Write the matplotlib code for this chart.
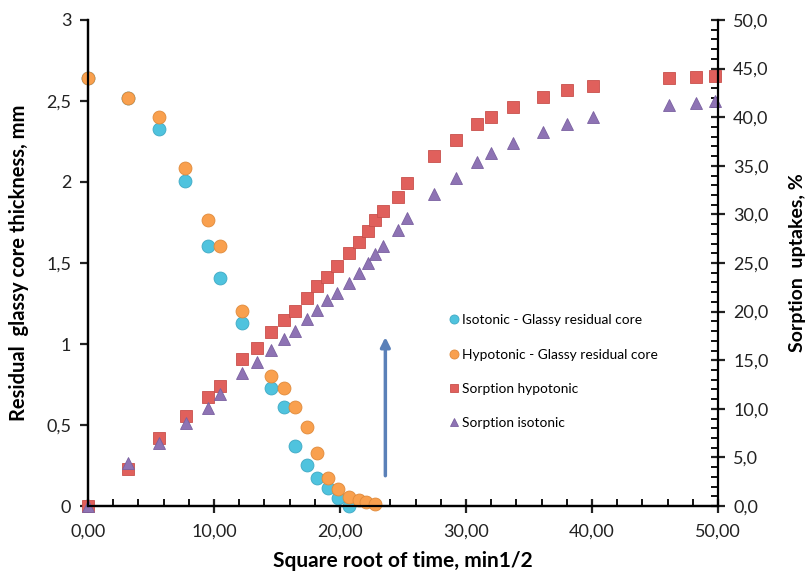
import numpy as np
import matplotlib.pyplot as plt
from matplotlib.ticker import MultipleLocator, FuncFormatter

plt.rcParams['font.family'] = ['Lato', 'DejaVu Sans']

# glassy residual core (left axis, mm)
t_iso_core = [0, 3.17, 5.63, 7.72, 9.5, 10.5, 12.25, 14.55, 15.56, 16.46, 17.35, 18.2, 19.05, 19.84, 20.7]
iso_core = [2.64, 2.52, 2.33, 2.006, 1.607, 1.41, 1.128, 0.73, 0.609, 0.372, 0.251, 0.173, 0.109, 0.047, 0.0]

t_hypo_core = [0, 3.17, 5.63, 7.72, 9.5, 10.5, 12.25, 14.55, 15.56, 16.46, 17.35, 18.2, 19.05, 19.84,
               20.7, 21.5, 22.1, 22.8]
hypo_core = [2.64, 2.52, 2.40, 2.085, 1.765, 1.607, 1.206, 0.80, 0.727, 0.609, 0.486, 0.329, 0.173, 0.105,
             0.053, 0.037, 0.027, 0.012]

# sorption uptakes (right axis, %)
t_sorp = [0, 3.17, 5.63, 7.8, 9.55, 10.5, 12.25, 13.44, 14.55, 15.56, 16.46, 17.35, 18.2, 18.94, 19.8,
          20.7, 21.5, 22.2, 22.75, 23.4, 24.6, 25.35, 27.46, 29.2, 30.9, 32.0, 33.75, 36.1, 38.0, 40.1,
          46.1, 48.25, 49.8]
sorp_hypo = [0, 3.8, 7.0, 9.3, 11.2, 12.4, 15.1, 16.3, 17.9, 19.1, 20.1, 21.4, 22.6, 23.6, 24.7,
             26.0, 27.2, 28.3, 29.4, 30.4, 31.8, 33.2, 36.0, 37.65, 39.3, 40.0, 41.0, 42.05, 42.8, 43.25,
             44.0, 44.1, 44.2]
sorp_iso = [0, 4.4, 6.5, 8.5, 10.1, 11.5, 13.7, 14.85, 16.05, 17.15, 18.0, 19.2, 20.2, 21.2, 21.9,
            22.9, 24.0, 25.0, 25.9, 26.7, 28.4, 29.6, 32.1, 33.7, 35.4, 36.35, 37.3, 38.45, 39.3, 40.0,
            41.25, 41.5, 41.7]

fig = plt.figure(figsize=(8.12, 5.79), dpi=100)
ax = fig.add_axes([0.1084, 0.126, 0.7758, 0.8395])
ax2 = ax.twinx()

h1, = ax.plot(t_iso_core, iso_core, 'o', ms=9.3, color='#4FC3DE', mec='#3FA9C4', mew=0.6,
              clip_on=False, label='Isotonic - Glassy residual core', zorder=3)
h2, = ax.plot(t_hypo_core, hypo_core, 'o', ms=9.3, color='#F9A04E', mec='#E08A3A', mew=0.6,
              clip_on=False, label='Hypotonic - Glassy residual core', zorder=4)
h3, = ax2.plot(t_sorp, sorp_hypo, 's', ms=8.6, color='#E0605C', mec='#C8504C', mew=0.6,
               clip_on=False, label='Sorption hypotonic')
h4, = ax2.plot(t_sorp, sorp_iso, '^', ms=9, color='#8E73B4', mec='#7A60A0', mew=0.6,
               clip_on=False, label='Sorption isotonic')

ax.annotate('', xy=(23.6, 1.06), xytext=(23.6, 0.17),
            arrowprops=dict(arrowstyle='-|>', color='#5A80B8', lw=2.5, mutation_scale=14))

ax.set_xlim(0, 50)
ax.set_ylim(0, 3)
ax2.set_ylim(0, 50)

ax.xaxis.set_major_locator(MultipleLocator(10))
ax.xaxis.set_minor_locator(MultipleLocator(2))
ax.yaxis.set_major_locator(MultipleLocator(0.5))
ax2.yaxis.set_major_locator(MultipleLocator(5))
ax2.yaxis.set_minor_locator(MultipleLocator(1))

ax.xaxis.set_major_formatter(FuncFormatter(lambda v, p: f'{v:.2f}'.replace('.', ',')))
ax.yaxis.set_major_formatter(FuncFormatter(lambda v, p: f'{v:g}'.replace('.', ',')))
ax2.yaxis.set_major_formatter(FuncFormatter(lambda v, p: f'{v:.1f}'.replace('.', ',')))

for a in (ax, ax2):
    a.spines['top'].set_visible(False)
    for s in a.spines.values():
        s.set_linewidth(1.6)
ax.spines['right'].set_visible(False)

ax.tick_params(axis='x', which='major', direction='inout', length=10, width=1.6, labelsize=13, pad=8,
               colors='#222222')
ax.tick_params(axis='x', which='minor', direction='in', length=5, width=1.3)
ax.tick_params(axis='y', which='major', direction='out', length=6, width=1.6, labelsize=13, pad=6,
               colors='#222222')
ax2.tick_params(axis='y', which='major', direction='inout', length=10, width=1.6, labelsize=13, pad=6,
                colors='#222222')
ax2.tick_params(axis='y', which='minor', direction='in', length=5, width=1.3)

ax.set_xlabel('Square root of time, min1/2', fontsize=15, fontweight='bold', labelpad=8)
ax.set_ylabel('Residual  glassy core thickness, mm', fontsize=14.5, fontweight='bold')
ax2.set_ylabel('Sorption  uptakes, %', fontsize=14, fontweight='bold')
ax.yaxis.set_label_coords(-0.093, 0.5)
ax2.yaxis.set_label_coords(1.112, 0.5)

ax2.legend(handles=[h1, h2, h3, h4], loc='upper left', bbox_to_anchor=(0.555, 0.42), frameon=False,
           fontsize=9.9, markerscale=0.7, handlelength=0.6, handletextpad=0.3, labelspacing=1.62)

fig.savefig('out.png', dpi=100)
